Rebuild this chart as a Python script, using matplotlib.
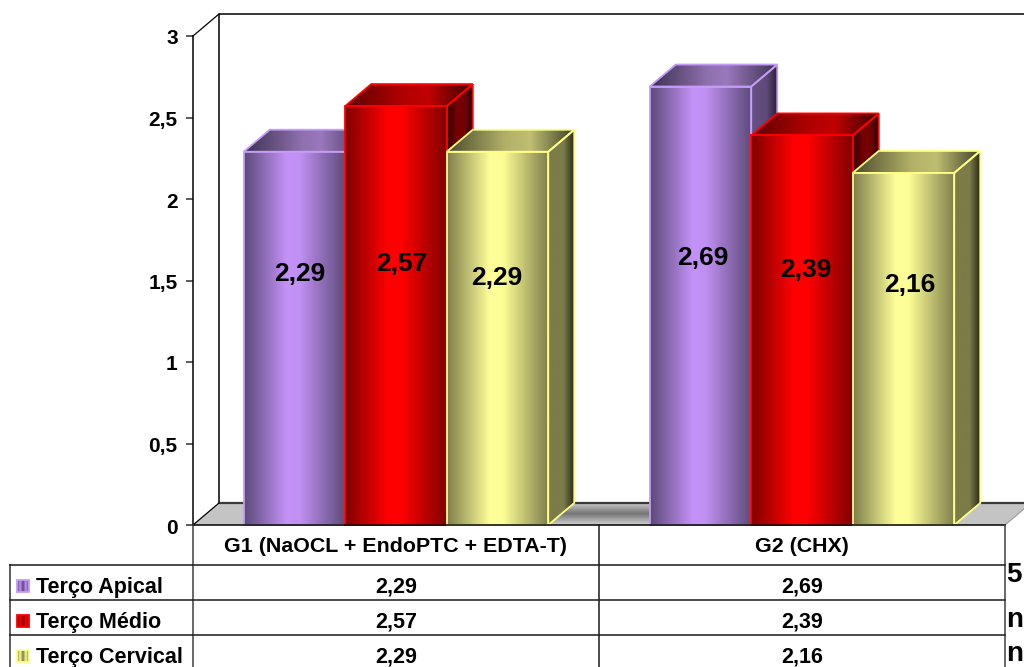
import numpy as np
import matplotlib
matplotlib.use('Agg')
import matplotlib.pyplot as plt
from matplotlib.colors import LinearSegmentedColormap
from matplotlib.patches import Polygon
from matplotlib.transforms import ScaledTranslation

plt.rcParams['font.family'] = ['Liberation Sans', 'DejaVu Sans']
plt.rcParams['font.weight'] = 'bold'

# dados
grupos = ['G1 (NaOCL + EndoPTC + EDTA-T)', 'G2 (CHX)']
series = ['Terço Apical', 'Terço Médio', 'Terço Cervical']
apical = [2.29, 2.69]
medio = [2.57, 2.39]
cervical = [2.29, 2.16]
eixo_y = [0, 0.5, 1, 1.5, 2, 2.5, 3]

# posicao dos rotulos dentro das barras
rotulo_x = [[0.2635, 0.5148, 0.7488], [1.2562, 1.5099, 1.766]]
rotulo_y = [[1.538, 1.603, 1.514], [1.638, 1.564, 1.474]]

# cores: (frente, topo, lateral, borda)
estilos = [
    ([(0, '#5c4a78'), (0.42, '#c492f8'), (0.55, '#c090f2'), (1, '#5c4a78')],
     [(0, '#3c3150'), (0.45, '#8f70ae'), (0.6, '#9a78bc'), (1, '#3c3150')],
     [(0, '#685284'), (0.6, '#5e4a78'), (1, '#2a2238')], '#c59cf8'),
    ([(0, '#800000'), (0.42, '#ff0000'), (0.55, '#ff0000'), (1, '#800000')],
     [(0, '#5c0000'), (0.45, '#b00000'), (0.65, '#c00000'), (1, '#3c0000')],
     [(0, '#300000'), (0.4, '#780000'), (0.7, '#700000'), (1, '#200000')], '#ff0000'),
    ([(0, '#7e7e4c'), (0.42, '#ffff99'), (0.55, '#fdfd96'), (1, '#7e7e4c')],
     [(0, '#4c4c2e'), (0.45, '#b0b068'), (0.65, '#bfbf73'), (1, '#3e3e26')],
     [(0, '#7c7c4a'), (0.6, '#7c7c4a'), (1, '#2c2c1a')], '#ffff88'),
]

W, H = 1024, 667
fig = plt.figure(figsize=(W / 100, H / 100), dpi=100)


def caixa(x0, y0, x1, y1):
    # pixels (origem em cima) para fracao da figura
    return [x0 / W, 1 - y1 / H, (x1 - x0) / W, (y1 - y0) / H]


ax = fig.add_axes(caixa(193, 36, 1005, 525))
ax.set_xlim(0, 2)
ax.set_ylim(0, 3)
ax.patch.set_alpha(0)

# profundidade do efeito 3D em unidades dos eixos
dx = 26 / 406
dy = 22 / 163
largura = 0.25


def face(pontos, cores, zorder, borda=None):
    # face com degrade horizontal recortada no poligono
    pontos = np.array(pontos)
    cmap = LinearSegmentedColormap.from_list('f', cores)
    grad = np.linspace(0, 1, 256).reshape(1, -1)
    im = ax.imshow(grad, cmap=cmap, aspect='auto', zorder=zorder,
                   extent=(pontos[:, 0].min(), pontos[:, 0].max(),
                           pontos[:, 1].min(), pontos[:, 1].max()))
    pol = Polygon(pontos, closed=True, fc='none', ec=borda or 'none', lw=1.3,
                  zorder=zorder + 0.1, clip_on=False, joinstyle='miter')
    ax.add_patch(pol)
    im.set_clip_path(pol)


def barra(x, v, estilo, zorder):
    frente, topo, lateral, borda = estilo
    face([(x, v), (x + largura, v), (x + largura + dx, v + dy), (x + dx, v + dy)], topo, zorder, borda)
    face([(x + largura, 0), (x + largura + dx, dy), (x + largura + dx, v + dy), (x + largura, v)],
         lateral, zorder, borda)
    face([(x, 0), (x + largura, 0), (x + largura, v), (x, v)], frente, zorder + 0.2, borda)


# parede e chao
ax.add_patch(Polygon([(0, 0), (dx, dy), (2 + dx, dy), (2, 0)], closed=True, fc='#c4c4c4',
                     ec='none', zorder=1, clip_on=False))
ax.plot([dx, dx, 2.1], [dy, 3 + dy, 3 + dy], color='black', lw=1.1, clip_on=False, zorder=1.5)
ax.plot([dx, 2 + dx], [dy, dy], color='#3a3a3a', lw=1.6, clip_on=False, zorder=1.5)
ax.plot([0, dx], [3, 3 + dy], color='black', lw=0.9, clip_on=False, zorder=1.5)
ax.plot([0, dx], [0, dy], color='black', lw=0.9, clip_on=False, zorder=1.5)
ax.plot([2, 2 + dx], [0, dy], color='#a0a0a0', lw=0.9, clip_on=False, zorder=1.5)

# sombra no chao entre os dois grupos
sombra = LinearSegmentedColormap.from_list('s', ['#c8c8c8', '#747474', '#c8c8c8'])
ax.imshow(np.linspace(0, 1, 64).reshape(-1, 1), cmap=sombra, aspect='auto', zorder=1.2,
          extent=(0.875, 1.125, 0.006, dy - 0.006))

# barras, da ultima para a primeira para sobrepor certo
valores = [apical, medio, cervical]
for g in range(2):
    for s in range(3):
        x0 = g + 0.125 + s * largura
        barra(x0, valores[s][g], estilos[s], 2 + g * 3 + s)
        ax.text(rotulo_x[g][s], rotulo_y[g][s], f'{valores[s][g]:.2f}'.replace('.', ','),
                ha='center', va='center', fontsize=19, zorder=20)

ax.set_xticks([])
ax.set_yticks(eixo_y)
ax.set_yticklabels([str(v).replace('.', ',') for v in eixo_y], fontsize=15)
ax.tick_params(axis='y', length=5, width=1.1, color='#303030', pad=6)
desce = ScaledTranslation(0, -1 / 100, fig.dpi_scale_trans)
for rotulo in ax.get_yticklabels():
    rotulo.set_transform(rotulo.get_transform() + desce)
for lado in ['top', 'right']:
    ax.spines[lado].set_visible(False)
for lado in ['left', 'bottom']:
    ax.spines[lado].set_linewidth(1.1)
    ax.spines[lado].set_zorder(30)

# tabela de dados em coordenadas de pixel
tab = fig.add_axes([0, 0, 1, 1])
tab.set_xlim(0, W)
tab.set_ylim(H, 0)
tab.axis('off')
tab.patch.set_alpha(0)

col_x = [193, 599, 1005]
lin_y = [565, 600, 635]
cor_linha = '#1a1a1a'
tab.plot([193, 193], [525, H], color='#404040', lw=1.1)
tab.plot([599, 599], [525, H], color=cor_linha, lw=1.1)
tab.plot([1005, 1005], [525, H], color='#404040', lw=1.1)
tab.plot([10, 10], [565, H], color='#303030', lw=1.1)
for y in lin_y:
    tab.plot([10, 1005], [y, y], color=cor_linha, lw=1.1)

for j, nome in enumerate(grupos):
    tab.text((col_x[j] + col_x[j + 1]) / 2, 547, nome, ha='center', va='center', fontsize=15.4)
for i, nome in enumerate(series):
    yc = lin_y[i] + 21
    tab.text(36, yc + 1.5, nome, ha='left', va='center', fontsize=15.5)
    for j in range(2):
        tab.text((col_x[j] + col_x[j + 1]) / 2, yc + 1, f'{valores[i][j]:.2f}'.replace('.', ','),
                 ha='center', va='center', fontsize=15.5)
    # amostra da legenda com faixas verticais
    frente = estilos[i][0]
    faixas = LinearSegmentedColormap.from_list(
        'l', [frente[0][1], frente[1][1], frente[0][1], frente[1][1], frente[0][1]])
    tab.imshow(np.linspace(0, 1, 32).reshape(1, -1), cmap=faixas, aspect='auto',
               extent=(17, 29, yc + 6, yc - 6))
    tab.add_patch(Polygon([(17, yc - 6), (29, yc - 6), (29, yc + 6), (17, yc + 6)], closed=True,
                          fc='none', ec=estilos[i][3], lw=1.3))
tab.set_xlim(0, W)
tab.set_ylim(H, 0)

# texto de outra caixa, cortado na margem direita
for y, t in zip([575, 620, 654], ['5', 'n', 'n']):
    tab.text(1006, y, t, ha='left', va='center', fontsize=20, clip_on=False)

fig.savefig('out.png', dpi=100)
